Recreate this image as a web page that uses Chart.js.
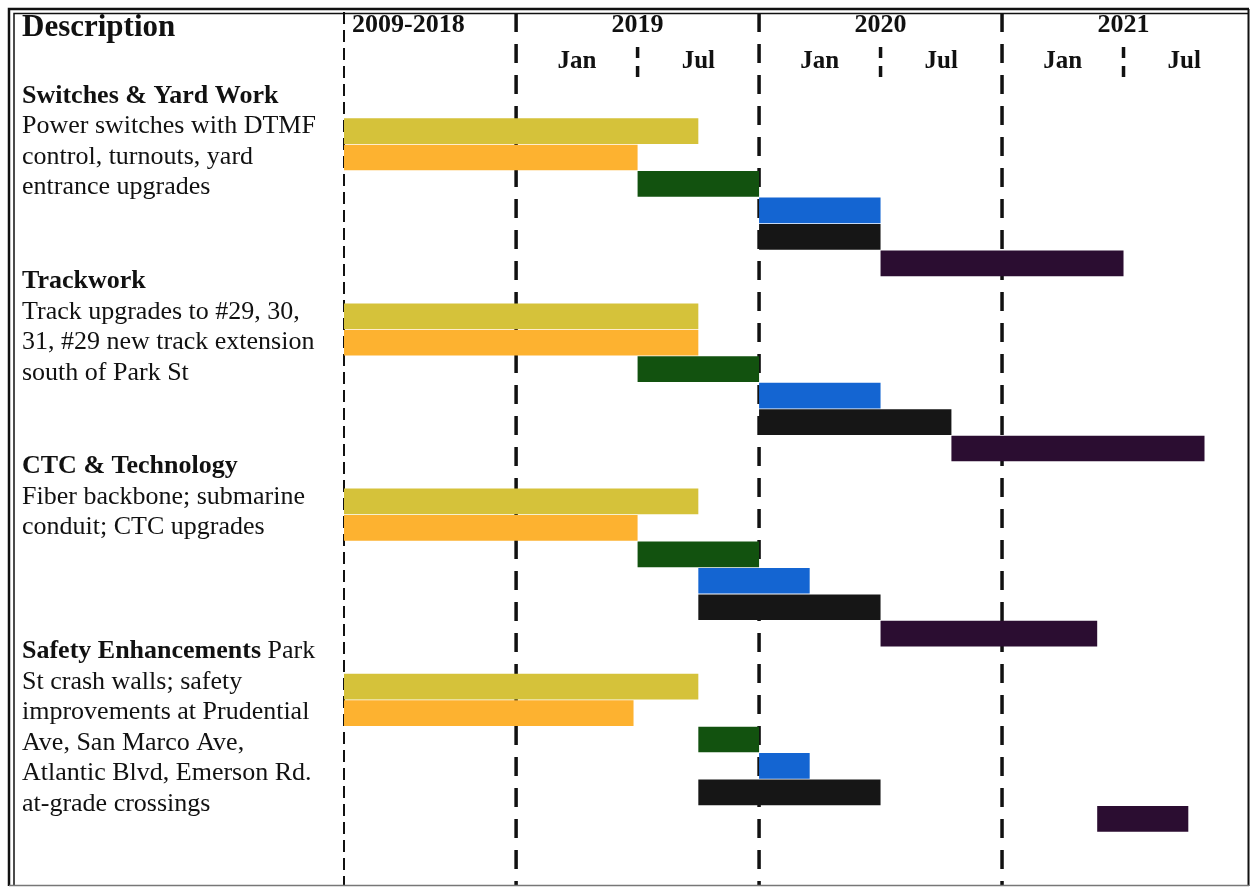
<!DOCTYPE html>
<html>
<head>
<meta charset="utf-8">
<script src="https://cdn.jsdelivr.net/npm/chart.js@4.4.1/dist/chart.umd.min.js"></script>
<style>
html,body{margin:0;padding:0;background:#fff;}
canvas{display:block;}
</style>
</head>
<body>
<canvas id="c" width="1251" height="888"></canvas>
<script>
// x values: months counted from Jan 2019 (0 = Jan 2019, 12 = Jan 2020, 24 = Jan 2021)
const PERIOD_START = -8.5;   // left edge: beginning of the 2009-2018 period
const PERIOD_END = 36;       // end of 2021

const sections = ['Switches & Yard Work', 'Trackwork', 'CTC & Technology', 'Safety Enhancements'];
const headingTails = ['', '', '', ' Park'];
const descriptions = [
  ['Power switches with DTMF', 'control, turnouts, yard', 'entrance upgrades'],
  ['Track upgrades to #29, 30,', '31, #29 new track extension', 'south of Park St'],
  ['Fiber backbone; submarine', 'conduit; CTC upgrades'],
  ['St crash walls; safety', 'improvements at Prudential', 'Ave, San Marco Ave,', 'Atlantic Blvd, Emerson Rd.', 'at-grade crossings']
];

const yearLabels = ['2009-2018', '2019', '2020', '2021'];
const yearCenters = [null, 6, 18, 30];
const monthLabels = ['Jan', 'Jul', 'Jan', 'Jul', 'Jan', 'Jul'];
const monthCenters = [3, 9, 15, 21, 27, 33];
const yearBoundaries = [0, 12, 24];
const halfYearMarks = [6, 18, 30];

// [start, end] per section (one phase per series)
const phase1 = [[PERIOD_START, 9], [PERIOD_START, 9], [PERIOD_START, 9], [PERIOD_START, 9]];
const phase2 = [[PERIOD_START, 6], [PERIOD_START, 9], [PERIOD_START, 6], [PERIOD_START, 5.8]];
const phase3 = [[6, 12], [6, 12], [6, 12], [9, 12]];
const phase4 = [[12, 18], [12, 18], [9, 14.5], [12, 14.5]];
const phase5 = [[12, 18], [12, 21.5], [9, 18], [9, 18]];
const phase6 = [[18, 30], [21.5, 34], [18, 28.7], [28.7, 33.2]];

const phases = [phase1, phase2, phase3, phase4, phase5, phase6];
const phaseColors = ['#d5c23a', '#fdb230', '#12520f', '#1465d2', '#161616', '#2b0d31'];
const ROWS_PER_SECTION = 7;

const datasets = phases.map((ph, j) => ({
  label: 'Phase ' + (j + 1),
  data: ph.map((range, k) => ({ x: range, y: k * ROWS_PER_SECTION + j })),
  backgroundColor: phaseColors[j],
  borderWidth: 0,
  grouped: false,
  barPercentage: 0.97,
  categoryPercentage: 1
}));

const SERIF = '"Liberation Serif", "Times New Roman", serif';

const ganttDecor = {
  id: 'ganttDecor',
  beforeDraw(chart) {
    const ctx = chart.ctx;
    ctx.save();
    ctx.fillStyle = '#fff';
    ctx.fillRect(0, 0, chart.width, chart.height);
    ctx.restore();
  },
  beforeDatasetsDraw(chart) {
    const { ctx, chartArea, scales: { x } } = chart;
    const line = (px, y0, y1, w, dash) => {
      ctx.beginPath();
      ctx.lineWidth = w;
      ctx.setLineDash(dash);
      ctx.moveTo(px, y0);
      ctx.lineTo(px, y1);
      ctx.stroke();
    };
    ctx.save();
    ctx.strokeStyle = '#111';
    line(x.getPixelForValue(PERIOD_START), chartArea.top, chartArea.bottom, 2, [12, 6]);
    yearBoundaries.forEach(v => line(x.getPixelForValue(v), chartArea.top + 1, chartArea.bottom, 3.5, [19, 12]));
    halfYearMarks.forEach(v => line(x.getPixelForValue(v), 47, 81, 3.5, [11, 8]));
    ctx.restore();
  },
  afterDraw(chart) {
    const { ctx, scales: { x, y } } = chart;
    ctx.save();
    ctx.fillStyle = '#111';
    ctx.textBaseline = 'middle';

    // header
    ctx.textAlign = 'left';
    ctx.font = 'bold 31px ' + SERIF;
    ctx.fillText('Description', 22, 28);

    ctx.font = 'bold 26px ' + SERIF;
    yearLabels.forEach((t, i) => {
      if (yearCenters[i] === null) {
        ctx.textAlign = 'left';
        ctx.fillText(t, x.getPixelForValue(PERIOD_START) + 8, 25);
      } else {
        ctx.textAlign = 'center';
        ctx.fillText(t, x.getPixelForValue(yearCenters[i]), 25);
      }
    });
    ctx.font = 'bold 25px ' + SERIF;
    ctx.textAlign = 'center';
    monthLabels.forEach((t, i) => ctx.fillText(t, x.getPixelForValue(monthCenters[i]), 62));

    // description column
    ctx.textAlign = 'left';
    sections.forEach((name, k) => {
      const top = y.getPixelForValue(k * ROWS_PER_SECTION) - 35;
      ctx.font = 'bold 26px ' + SERIF;
      ctx.fillText(name, 22, top);
      const w = ctx.measureText(name).width;
      ctx.font = '26px ' + SERIF;
      if (headingTails[k]) ctx.fillText(headingTails[k], 22 + w, top);
      descriptions[k].forEach((ln, i) => ctx.fillText(ln, 22, top + 30.5 * (i + 1)));
    });

    // frame
    ctx.strokeStyle = '#111';
    ctx.setLineDash([]);
    ctx.lineWidth = 2.5;
    ctx.beginPath();
    ctx.moveTo(9, 886); ctx.lineTo(9, 9); ctx.lineTo(1249, 9);
    ctx.stroke();
    ctx.lineWidth = 1.5;
    ctx.beginPath();
    ctx.moveTo(14, 886); ctx.lineTo(14, 13.5); ctx.lineTo(1249, 13.5);
    ctx.stroke();
    ctx.lineWidth = 2;
    ctx.beginPath();
    ctx.moveTo(1248.5, 9); ctx.lineTo(1248.5, 886);
    ctx.stroke();
    ctx.strokeStyle = '#777';
    ctx.lineWidth = 1.5;
    ctx.beginPath();
    ctx.moveTo(9, 885.5); ctx.lineTo(1249, 885.5);
    ctx.stroke();
    ctx.restore();
  }
};

new Chart(document.getElementById('c'), {
  type: 'bar',
  data: { datasets },
  options: {
    responsive: false,
    animation: false,
    devicePixelRatio: 1,
    indexAxis: 'y',
    layout: { padding: { left: 344, right: 6, top: 12, bottom: 3 } },
    plugins: { legend: { display: false }, tooltip: { enabled: false } },
    scales: {
      x: { type: 'linear', min: PERIOD_START, max: PERIOD_END, offset: false, display: false },
      y: { type: 'linear', min: -4.5, max: 28.5, reverse: true, offset: false, display: false }
    }
  },
  plugins: [ganttDecor]
});
</script>
</body>
</html>
